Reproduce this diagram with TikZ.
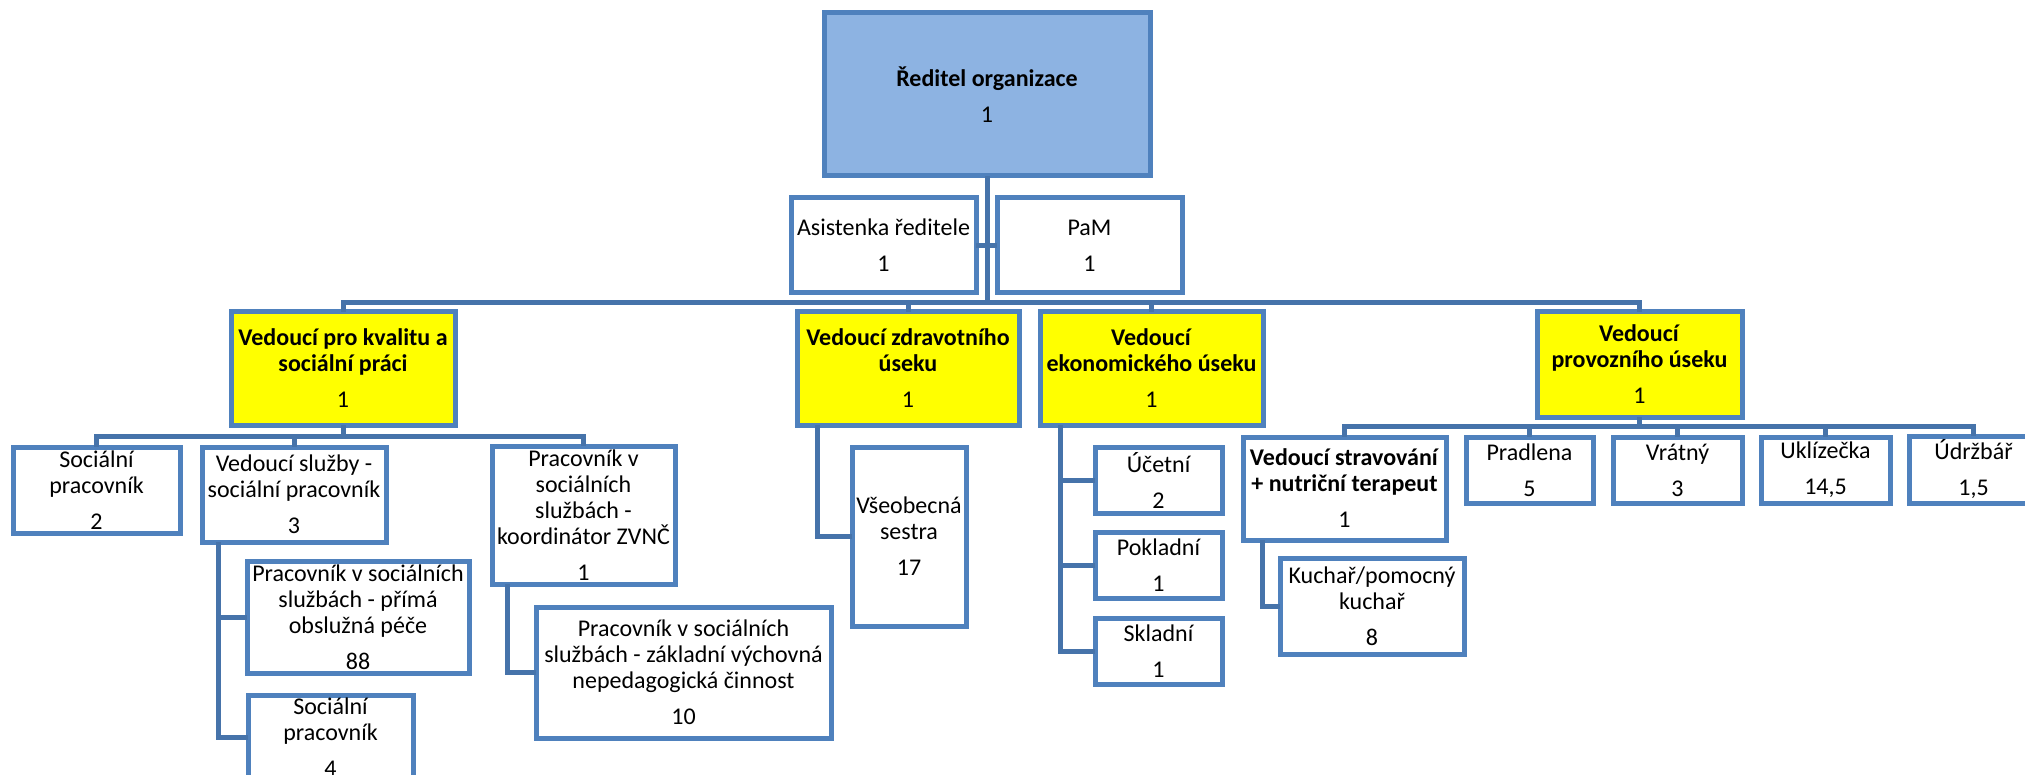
\documentclass[tikz,border=0pt]{standalone}
\usepackage{fontspec}
\setmainfont{Carlito}
\definecolor{bord}{HTML}{4F81BD}
\definecolor{conncol}{HTML}{4673AA}
\definecolor{dirfill}{HTML}{8DB3E2}
\definecolor{yel}{HTML}{FFFF00}
\tikzset{
  box/.style={draw=bord, line width=2.5pt, fill=white, align=center, inner sep=0pt,
    font=\fontsize{12}{13}\selectfont, text=black},
  headbox/.style={box, fill=yel},
  dirbox/.style={box, fill=dirfill},
  conn/.style={draw=conncol, line width=2.5pt, line join=miter, line cap=rect},
}
\begin{document}
\begin{tikzpicture}[x=0.5pt, y=-0.5pt]
\useasboundingbox (0,0) rectangle (2025,775);
\coordinate (busA) at (0,303);
\coordinate (busB) at (0,436);
\coordinate (busC) at (0,426);

% level 0/1
\node[dirbox, minimum width=163pt, minimum height=81.5pt] (dir) at (987,94.5) {\textbf{Ředitel organizace}\\[5pt]1};
\node[box, minimum width=92.5pt, minimum height=47.5pt] (as) at (883.5,245.5) {Asistenka ředitele\\[5pt]1};
\node[box, minimum width=92.5pt, minimum height=47.5pt] (pam) at (1089.5,245.5) {PaM\\[5pt]1};

\node[headbox, minimum width=112pt, minimum height=56.5pt] (kv) at (343,368.5) {\textbf{Vedoucí pro kvalitu a}\\\textbf{sociální práci}\\[5pt]1};
\node[headbox, minimum width=111pt, minimum height=56.5pt] (zd) at (908,368.5) {\textbf{Vedoucí zdravotního}\\\textbf{úseku}\\[5pt]1};
\node[headbox, minimum width=111.5pt, minimum height=56.5pt] (ek) at (1151.5,368.5) {\textbf{Vedoucí}\\\textbf{ekonomického úseku}\\[5pt]1};
\node[headbox, minimum width=102.5pt, minimum height=52.5pt] (pv) at (1639.5,364.5) {\textbf{Vedoucí}\\\textbf{provozního úseku}\\[5pt]1};

% kvalita branch
\node[box, minimum width=83.5pt, minimum height=43pt] (sp) at (96.5,490) {Sociální\\pracovník\\[5pt]2};
\node[box, minimum width=92pt, minimum height=47.5pt] (vs) at (294,494.5) {Vedoucí služby -\\sociální pracovník\\[5pt]3};
\node[box, minimum width=91.5pt, minimum height=69pt] (ko) at (583.5,515) {Pracovník v\\sociálních\\službách -\\koordinátor ZVNČ\\[5pt]1};
\node[box, minimum width=111pt, minimum height=56pt] (pp) at (358,617) {Pracovník v sociálních\\službách - přímá\\obslužná péče\\[5pt]88};
\node[box, minimum width=82.5pt, minimum height=42pt] (s4) at (330.5,737) {Sociální\\pracovník\\[5pt]4};
\node[box, minimum width=147.5pt, minimum height=65.5pt] (zak) at (683.5,672.5) {Pracovník v sociálních\\službách - základní výchovná\\nepedagogická činnost\\[5pt]10};

% zdravotni
\node[box, minimum width=57pt, minimum height=89.5pt] (ses) at (909,536.5) {Všeobecná\\sestra\\[5pt]17};

% ekonomicky
\node[box, minimum width=63.5pt, minimum height=33pt] (uc) at (1158.5,480) {Účetní\\[5pt]2};
\node[box, minimum width=63.5pt, minimum height=33pt] (po) at (1158.5,565) {Pokladní\\[5pt]1};
\node[box, minimum width=63.5pt, minimum height=33pt] (sk) at (1158.5,651) {Skladní\\[5pt]1};

% provozni
\node[box, minimum width=101.5pt, minimum height=51.5pt] (st) at (1344.5,488.5) {\textbf{Vedoucí stravování}\\\textbf{+ nutriční terapeut}\\[5pt]1};
\node[box, minimum width=63.5pt, minimum height=33pt] (pr) at (1529.5,470) {Pradlena\\[5pt]5};
\node[box, minimum width=64.5pt, minimum height=33pt] (vr) at (1677.5,470) {Vrátný\\[5pt]3};
\node[box, minimum width=64.5pt, minimum height=33pt] (uk) at (1825.5,470) {Uklízečka\\[5pt]14,5};
\node[box, minimum width=64.5pt, minimum height=33.5pt] (ud) at (1973.5,469.5) {Údržbář\\[5pt]1,5};
\node[box, minimum width=92pt, minimum height=48pt] (ku) at (1372,606) {Kuchař/pomocný\\kuchař\\[5pt]8};

% side connector anchors
\coordinate (vsx) at ([xshift=9.5pt]vs.south west);
\coordinate (kox) at ([xshift=9pt]ko.south west);
\coordinate (zdx) at ([xshift=11.5pt]zd.south west);
\coordinate (ekx) at ([xshift=11.5pt]ek.south west);
\coordinate (stx) at ([xshift=11pt]st.south west);

% top level connectors
\draw[conn] (dir.south) -- (dir.south |- busA);
\draw[conn] (as.east) -- (pam.west);
\draw[conn] (kv.north) -- (kv.north |- busA) -- (pv.north |- busA) -- (pv.north);
\draw[conn] (zd.north) -- (zd.north |- busA);
\draw[conn] (ek.north) -- (ek.north |- busA);

% kvalita
\draw[conn] (kv.south) -- (kv.south |- busB);
\draw[conn] (sp.north) -- (sp.north |- busB) -- (ko.north |- busB) -- (ko.north);
\draw[conn] (vs.north) -- (vs.north |- busB);
\draw[conn] (vsx) |- (s4.west);
\draw[conn] (vsx |- pp.west) -- (pp.west);
\draw[conn] (kox) |- (zak.west);

% zdravotni
\draw[conn] (zdx) |- (ses.west);

% ekonomicky
\draw[conn] (ekx) |- (sk.west);
\draw[conn] (ekx |- uc.west) -- (uc.west);
\draw[conn] (ekx |- po.west) -- (po.west);

% provozni
\draw[conn] (pv.south) -- (pv.south |- busC);
\draw[conn] (st.north) -- (st.north |- busC) -- (ud.north |- busC) -- (ud.north);
\draw[conn] (pr.north) -- (pr.north |- busC);
\draw[conn] (vr.north) -- (vr.north |- busC);
\draw[conn] (uk.north) -- (uk.north |- busC);
\draw[conn] (stx) |- (ku.west);
\end{tikzpicture}
\end{document}
